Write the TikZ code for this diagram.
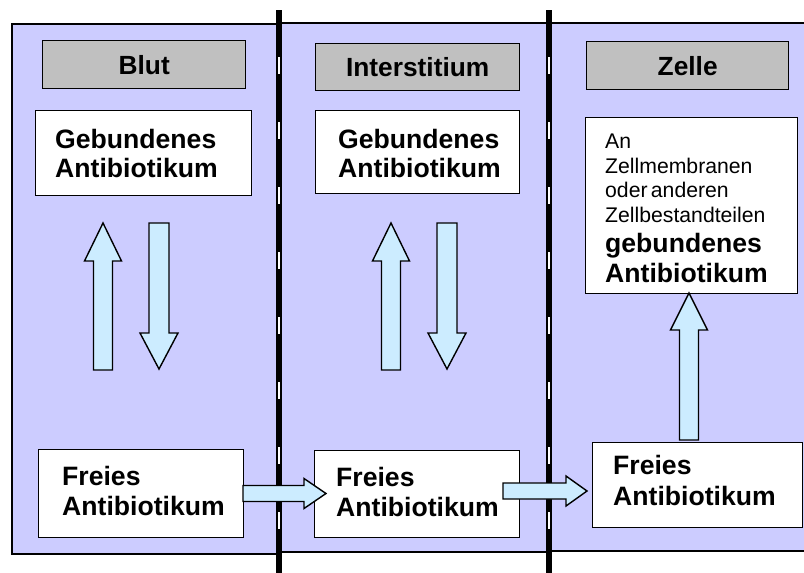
\documentclass[tikz,border=0pt]{standalone}
\usepackage{fontspec}
\setmainfont{Liberation Sans}
\definecolor{panelc}{HTML}{CCCCFF}
\definecolor{arrowc}{HTML}{CCECFF}
\definecolor{headc}{HTML}{C0C0C0}
\begin{document}
\begin{tikzpicture}[x=1pt,y=-1pt,
  panel/.style={draw=black,line width=1.2pt,fill=panelc},
  box/.style={draw=black,line width=1.4pt,fill=white,inner sep=0pt,anchor=north west},
  headbox/.style={box,fill=headc,font=\fontsize{26.3}{29}\selectfont\bfseries},
  bigtxt/.style={anchor=north west,inner sep=0pt,text width=200pt,align=left,font=\fontsize{26.6}{29.5}\selectfont\bfseries},
  blockarrow/.style={draw=black,line width=1.4pt,fill=arrowc,line join=miter},
  membrane/.style={fill=black},
  pore/.style={fill=white}]
\useasboundingbox (0,0) rectangle (804,573);

% compartments
\draw[panel] (12,24) rectangle (279,554);
\draw[panel] (279,23) rectangle (549,552);
\draw[panel] (549,23) rectangle (815,551);

% membranes
\foreach \mx in {279,549}{
  \fill[membrane] (\mx-3,10) rectangle (\mx+3,573);
  \foreach \py in {57,122,187,252,317,382,447,512}
    \fill[pore] (\mx-1.4,\py) rectangle (\mx+1.4,\py+17);
}

% headers
\node[headbox,minimum width=203,minimum height=48] (hBlut) at (42,40) {Blut};
\node[headbox,minimum width=204,minimum height=47] (hInt) at (315,43) {Interstitium};
\node[headbox,minimum width=202,minimum height=48] (hZelle) at (586,41) {Zelle};

% bound boxes
\node[box,minimum width=216,minimum height=85] (geb1) at (35,110) {};
\node[bigtxt] (tgeb1) at (55,129) {Gebundenes\\Antibiotikum};
\node[box,minimum width=204,minimum height=83] (geb2) at (315,110) {};
\node[bigtxt] (tgeb2) at (338,129) {Gebundenes\\Antibiotikum};
\node[box,minimum width=212,minimum height=176] (geb3) at (585,117) {};
\node[anchor=north west,inner sep=0pt,text width=185pt,align=left] (tgeb3) at (605,134)
  {\parindent=0pt{\fontsize{21.2}{24.5}\selectfont An\\Zellmembranen\\oder anderen\\Zellbestandteilen\par}%
   {\fontsize{26.6}{30}\selectfont\bfseries gebundenes\\Antibiotikum\par}};

% free boxes
\node[box,minimum width=205,minimum height=88] (frei1) at (38,449) {};
\node[bigtxt,font=\fontsize{26.6}{30}\selectfont\bfseries] (tfrei1) at (62,466.5) {Freies\\Antibiotikum};
\node[box,minimum width=205,minimum height=87] (frei2) at (314,450) {};
\node[bigtxt,font=\fontsize{26.6}{30}\selectfont\bfseries] (tfrei2) at (336,467.5) {Freies\\Antibiotikum};
\node[box,minimum width=210,minimum height=85] (frei3) at (592,442) {};
\node[bigtxt,font=\fontsize{26.6}{31.5}\selectfont\bfseries] (tfrei3) at (613,455) {Freies\\Antibiotikum};

% block arrows
\draw[blockarrow] (93.5,370) -- (93.5,261) -- (84.5,261) -- (103,223) -- (121.5,261) -- (112.5,261) -- (112.5,370) -- cycle;
\draw[blockarrow] (149,223) -- (169,223) -- (169,333) -- (178,333) -- (159,369) -- (140,333) -- (149,333) -- cycle;
\draw[blockarrow] (381.5,370) -- (381.5,261) -- (372.5,261) -- (391,223) -- (409.5,261) -- (400.5,261) -- (400.5,370) -- cycle;
\draw[blockarrow] (437,223) -- (457,223) -- (457,333) -- (466,333) -- (447,369) -- (428,333) -- (437,333) -- cycle;
\draw[blockarrow] (679.5,440) -- (679.5,330) -- (670.5,330) -- (689,293) -- (707.5,330) -- (698.5,330) -- (698.5,440) -- cycle;
\draw[blockarrow] (243,485.5) -- (304,485.5) -- (304,478.5) -- (326,493.5) -- (304,508.5) -- (304,501.5) -- (243,501.5) -- cycle;
\draw[blockarrow] (503,483) -- (566,483) -- (566,476) -- (587,491) -- (566,506) -- (566,499) -- (503,499) -- cycle;
\end{tikzpicture}
\end{document}
